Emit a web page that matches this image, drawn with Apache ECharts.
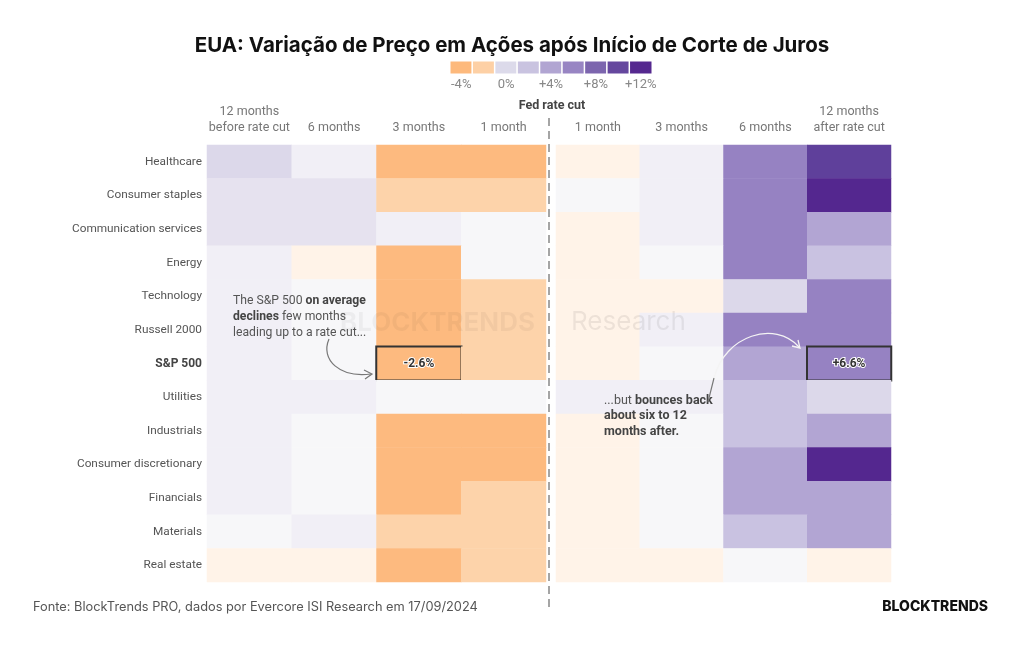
<!DOCTYPE html>
<html>
<head>
<meta charset="utf-8">
<script src="https://cdn.jsdelivr.net/npm/echarts@6/dist/echarts.min.js"></script>
<style>
  html, body { margin: 0; padding: 0; background: #ffffff; }
  #chart { width: 1024px; height: 645px; }
</style>
</head>
<body>
<div id="chart"></div>
<script>
// linhas (setores)
const sectors = ['Healthcare', 'Consumer staples', 'Communication services', 'Energy', 'Technology',
  'Russell 2000', 'S&P 500', 'Utilities', 'Industrials', 'Consumer discretionary', 'Financials',
  'Materials', 'Real estate']
// colunas
const beforeCols = ['12 months\nbefore rate cut', '6 months', '3 months', '1 month']
const afterCols = ['1 month', '3 months', '6 months', '12 months\nafter rate cut']

// variação média (%) antes do corte: 12m, 6m, 3m, 1m
const before = [
  [1.8, 0.3, -3.6, -3.4],
  [1.1, 0.9, -1.8, -1.7],
  [1.2, 1.1, 0.4, 0.1],
  [0.6, -0.5, -3.2, 0.1],
  [0.5, 0.0, -3.1, -1.9],
  [0.5, 0.0, -2.9, -1.8],
  [0.5, 0.0, -2.6, -1.6],
  [0.4, 0.4, 0.0, 0.1],
  [0.4, 0.0, -3.3, -3.0],
  [0.4, 0.0, -3.4, -2.8],
  [0.4, 0.0, -3.0, -1.9],
  [0.1, 0.4, -2.0, -1.7],
  [-0.5, -0.6, -3.1, -1.8]
]
// variação média (%) depois do corte: 1m, 3m, 6m, 12m
const after = [
  [-0.6, 0.4, 6.2, 9.8],
  [0.1, 0.4, 6.0, 11.6],
  [-0.6, 0.4, 6.1, 4.3],
  [-0.6, 0.1, 5.8, 3.1],
  [-0.6, -0.5, 2.0, 6.3],
  [-0.5, 0.4, 5.9, 6.5],
  [-0.5, 0.1, 4.2, 6.6],
  [0.3, 0.3, 3.0, 2.1],
  [-0.5, 0.1, 3.1, 4.4],
  [-0.5, 0.1, 4.0, 11.8],
  [-0.5, 0.1, 4.1, 4.2],
  [-0.5, 0.1, 3.0, 4.0],
  [-0.6, -0.6, 0.0, -0.4]
]

// legenda
const legendValues = [-4, -2, 0, 2, 4, 6, 8, 10, 12]
const legendLabels = ['-4%', '', '0%', '', '+4%', '', '+8%', '', '+12%']
const legendColors = ['#fdb97c', '#fdd0a5', '#dcdaea', '#c9c3e0', '#b1a5d2', '#9885c3', '#7c65ae', '#65479e', '#55288f']

// escala de cores das células
const cellPieces = [
  { lt: -2.2, color: '#fdba7f' },
  { gte: -2.2, lt: -1, color: '#fdd3aa' },
  { gte: -1, lt: -0.2, color: '#fff3e8' },
  { gte: -0.2, lt: 0.2, color: '#f7f7f9' },
  { gte: 0.2, lt: 0.8, color: '#f1eff6' },
  { gte: 0.8, lt: 1.5, color: '#e6e2ef' },
  { gte: 1.5, lt: 2.5, color: '#dcd8ea' },
  { gte: 2.5, lt: 3.5, color: '#c9c2e1' },
  { gte: 3.5, lt: 5, color: '#b2a5d3' },
  { gte: 5, lt: 7.5, color: '#9682c2' },
  { gte: 7.5, lt: 10.5, color: '#5f409b' },
  { gte: 10.5, color: '#54278f' }
]

const FONT = 'Roboto'
const spIdx = sectors.indexOf('S&P 500')

const highlight = (v) => ({
  itemStyle: { borderColor: '#333', borderWidth: 2 },
  label: {
    show: true,
    formatter: (v > 0 ? '+' : '') + v.toFixed(1) + '%',
    fontFamily: FONT,
    fontWeight: 'bold',
    fontSize: 12,
    color: '#333',
    textBorderColor: '#fff',
    textBorderWidth: 2
  }
})

const buildData = (rows, hlCol) => {
  const out = []
  rows.forEach((row, r) => {
    row.forEach((v, c) => {
      const item = { value: [c, r, v] }
      if (r === spIdx && c === hlCol) Object.assign(item, highlight(v))
      out.push(item)
    })
  })
  return out
}

const xAxisBase = (cols, gridIndex) => ({
  type: 'category',
  gridIndex,
  data: cols,
  position: 'top',
  axisLine: { show: false },
  axisTick: { show: false },
  splitLine: { show: false },
  axisLabel: { interval: 0, color: '#777', fontFamily: FONT, fontSize: 12.5, margin: 9, lineHeight: 16 }
})

const yAxisBase = (gridIndex, show) => ({
  type: 'category',
  gridIndex,
  data: sectors,
  inverse: true,
  axisLine: { show: false },
  axisTick: { show: false },
  splitLine: { show: false },
  axisLabel: {
    show,
    interval: 0,
    margin: 5,
    color: '#555',
    fontFamily: FONT,
    fontSize: 11.8,
    formatter: (s) => (s === 'S&P 500' ? '{b|' + s + '}' : s),
    rich: { b: { fontWeight: 'bold', color: '#444', fontFamily: FONT, fontSize: 12 } }
  }
})

const myChart = echarts.init(document.getElementById('chart'), null, { renderer: 'canvas' })

const options = {
  backgroundColor: '#ffffff',
  animation: false,
  title: {
    text: 'EUA: Variação de Preço em Ações após Início de Corte de Juros',
    left: 'center',
    top: 30,
    textStyle: { fontFamily: 'Inter', fontWeight: 'bold', fontSize: 20.5, color: '#111' }
  },
  grid: [
    { left: 207, top: 145, width: 339, height: 437 },
    { left: 556, top: 145, width: 335, height: 437 },
    { left: 450, top: 61, width: 202, height: 13 }
  ],
  xAxis: [
    xAxisBase(beforeCols, 0),
    xAxisBase(afterCols, 1),
    {
      type: 'category',
      gridIndex: 2,
      data: legendLabels,
      axisLine: { show: false },
      axisTick: { show: false },
      axisLabel: { interval: 0, color: '#888', fontFamily: FONT, fontSize: 13, margin: 4 }
    }
  ],
  yAxis: [
    yAxisBase(0, true),
    yAxisBase(1, false),
    { type: 'category', gridIndex: 2, data: [''], show: false }
  ],
  visualMap: [
    { type: 'piecewise', show: false, dimension: 2, seriesIndex: [0, 1], pieces: cellPieces },
    {
      type: 'piecewise',
      show: false,
      dimension: 2,
      seriesIndex: 2,
      pieces: legendValues.map((v, i) => ({ value: v, color: legendColors[i] }))
    }
  ],
  series: [
    {
      type: 'heatmap',
      xAxisIndex: 0,
      yAxisIndex: 0,
      data: buildData(before, beforeCols.indexOf('3 months')),
      z: 2
    },
    {
      type: 'heatmap',
      xAxisIndex: 1,
      yAxisIndex: 1,
      data: buildData(after, afterCols.length - 1),
      z: 2
    },
    {
      type: 'heatmap',
      xAxisIndex: 2,
      yAxisIndex: 2,
      data: legendValues.map((v, i) => [i, 0, v]),
      itemStyle: { borderColor: '#fff', borderWidth: 1.5 }
    }
  ],
  graphic: [
    // marca d'água
    {
      type: 'text', left: 340, top: 310, z: 10, silent: true,
      style: { text: 'BLOCKTRENDS', fontFamily: 'Inter', fontWeight: 'bold', fontSize: 26, fill: 'rgba(0,0,0,0.045)' }
    },
    {
      type: 'text', left: 571, top: 309, z: 10, silent: true,
      style: { text: 'Research', fontFamily: 'Inter', fontSize: 26, fill: 'rgba(0,0,0,0.07)' }
    },
    // linha do corte
    {
      type: 'line', z: 5,
      shape: { x1: 549, y1: 118, x2: 549, y2: 607 },
      style: { stroke: '#888', lineWidth: 1.5, lineDash: [8, 5] }
    },
    {
      type: 'text', z: 5,
      style: { text: 'Fed rate cut', x: 552, y: 106, align: 'center', verticalAlign: 'middle', fontFamily: FONT, fontWeight: 'bold', fontSize: 12.5, fill: '#444' }
    },
    // anotações
    {
      type: 'text', z: 10,
      style: {
        x: 233, y: 293,
        text: 'The S&P 500 {b|on average}\n{b|declines} few months\nleading up to a rate cut...',
        fontFamily: FONT, fontSize: 12.2, lineHeight: 16, fill: '#555',
        rich: { b: { fontFamily: FONT, fontSize: 12.2, fontWeight: 'bold', fill: '#444' } }
      }
    },
    {
      type: 'bezierCurve', z: 10,
      shape: { x1: 329, y1: 339, cpx1: 320, cpy1: 360, cpx2: 340, cpy2: 378, x2: 371, y2: 374 },
      style: { stroke: '#777', lineWidth: 1.2, fill: null }
    },
    {
      type: 'polyline', z: 10,
      shape: { points: [[364, 370], [372, 374], [365, 379]] },
      style: { stroke: '#777', lineWidth: 1.2, fill: null }
    },
    {
      type: 'text', z: 10,
      style: {
        x: 604, y: 393,
        text: '...but {b|bounces back}\n{b|about six to 12}\n{b|months after.}',
        fontFamily: FONT, fontSize: 12.5, lineHeight: 15.5, fill: '#555',
        rich: { b: { fontFamily: FONT, fontSize: 12.5, fontWeight: 'bold', fill: '#444' } }
      }
    },
    {
      type: 'line', z: 10,
      shape: { x1: 708, y1: 402, x2: 714, y2: 378 },
      style: { stroke: '#777', lineWidth: 1.2 }
    },
    {
      type: 'bezierCurve', z: 10,
      shape: { x1: 714, y1: 378, cpx1: 725, cpy1: 335, cpx2: 775, cpy2: 320, x2: 799, y2: 347 },
      style: { stroke: '#f4f4f4', lineWidth: 1.3, fill: null }
    },
    {
      type: 'polyline', z: 10,
      shape: { points: [[792, 346], [800, 348], [798, 340]] },
      style: { stroke: '#f4f4f4', lineWidth: 1.3, fill: null }
    },
    // rodapé
    {
      type: 'text', z: 5,
      style: { x: 33, y: 607, verticalAlign: 'middle', text: 'Fonte: BlockTrends PRO, dados por Evercore ISI Research em 17/09/2024', fontFamily: 'Inter', fontSize: 12.8, fill: '#555' }
    },
    {
      type: 'text', z: 5,
      style: { x: 988, y: 607, align: 'right', verticalAlign: 'middle', text: 'BLOCKTRENDS', fontFamily: 'Inter', fontWeight: 800, fontSize: 14, fill: '#111' }
    }
  ]
}

myChart.setOption(options)
</script>
</body>
</html>
